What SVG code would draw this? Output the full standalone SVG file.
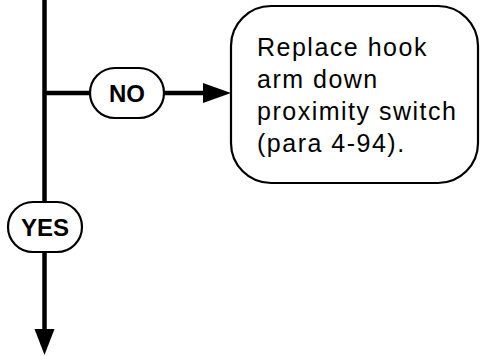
<svg xmlns="http://www.w3.org/2000/svg" width="480" height="356" viewBox="0 0 480 356">
<defs>
<style>
.ln{stroke:#000;stroke-width:4.5;fill:none}
.pill{fill:#fff;stroke:#000;stroke-width:2.2}
.lbl{font-family:"Liberation Sans",Arial,sans-serif;font-weight:bold;font-size:24px;text-anchor:middle;fill:#000}
.body{font-family:"Liberation Sans",Arial,sans-serif;font-size:25px;letter-spacing:1.5px;fill:#000}
</style>
</defs>
<rect width="480" height="356" fill="#fff"/>
<g id="connectors">
<line class="ln" x1="44.5" y1="0" x2="44.5" y2="330"/>
<line class="ln" x1="44.5" y1="93" x2="205" y2="93"/>
<polygon points="203,83 231,93 203,103" fill="#000"/>
<polygon points="34.5,329 54.5,329 44.5,355" fill="#000"/>
</g>
<g id="no">
<rect class="pill" x="90" y="68" width="74" height="50" rx="25"/>
<text class="lbl" x="127" y="102">NO</text>
</g>
<g id="yes">
<rect class="pill" x="8" y="202" width="74" height="50" rx="25"/>
<text class="lbl" x="45" y="236">YES</text>
</g>
<g id="action">
<rect class="pill" x="231" y="6" width="247" height="177" rx="40"/>
<text class="body"><tspan x="257" y="56">Replace hook</tspan><tspan x="257" y="88">arm down</tspan><tspan x="257" y="120">proximity switch</tspan><tspan x="257" y="152">(para 4-94).</tspan></text>
</g>
</svg>
